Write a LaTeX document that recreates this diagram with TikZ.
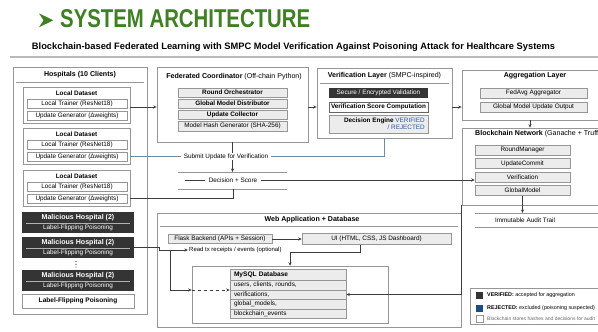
\documentclass[tikz,border=0pt]{standalone}
\usepackage{fontspec}
\setmainfont{Liberation Sans}
\usetikzlibrary{arrows.meta}
\definecolor{titlegreen}{RGB}{62,128,34}
\definecolor{boxline}{RGB}{150,150,150}
\definecolor{itemfill}{RGB}{236,236,236}
\definecolor{darkfill}{RGB}{52,52,52}
\definecolor{verblue}{RGB}{40,90,170}
\definecolor{rejblue}{RGB}{30,75,135}
\definecolor{linkgray}{RGB}{60,60,60}
\definecolor{submitblue}{RGB}{110,140,165}
\tikzset{
  layer/.style={draw=boxline,line width=.6bp,fill=white,inner sep=0pt},
  group/.style={draw=boxline,line width=.5bp,fill=white,inner sep=0pt},
  row/.style={draw=boxline,line width=.5bp,fill=white,inner sep=0pt,font=\fontsize{6.4}{7}\selectfont},
  item/.style={row,fill=itemfill},
  darkitem/.style={fill=darkfill,inner sep=0pt},
  lbl/.style={font=\fontsize{6.4}{7}\selectfont,inner sep=1pt},
  ttl/.style={font=\fontsize{7.1}{8}\selectfont\bfseries,inner sep=1pt},
  link/.style={draw=linkgray,line width=.6bp},
  arr/.style={link,-{Stealth[length=3.5bp,width=3bp]}},
  submitline/.style={draw=submitblue,line width=.6bp}
}
\begin{document}
\begin{tikzpicture}[x=1bp,y=-1bp]
  \path[use as bounding box] (0,0) rectangle (598,331);
  % title and subtitle
  \fill[titlegreen] (39,13.3) -- (53.3,20.3) -- (39,27.3) -- (43.5,20.3) -- cycle;
  \node[anchor=south west,inner sep=0pt,text=titlegreen] (title) at (60,28.3)
    {\resizebox{250bp}{18bp}{\bfseries SYSTEM ARCHITECTURE}};
  \node[inner sep=0pt] (subtitle) at (293.5,47)
    {\resizebox{523bp}{!}{\bfseries Blockchain-based Federated Learning with SMPC Model Verification Against Poisoning Attack for Healthcare Systems}};
  \draw[gray!55,line width=2bp] (10,57) -- (598,57);

  % hospitals
  \node[layer,minimum width=134bp,minimum height=247bp] (hosp) at (80,190.5) {};
  \node[ttl] (hosptitle) at (80,75) {Hospitals (10 Clients)};
  \draw[boxline,line width=.5bp] (16,82) -- (144,82);
  \node[group,minimum width=107bp,minimum height=36bp] (g1) at (76.5,105) {};
  \node[lbl,font=\fontsize{6.4}{7}\selectfont\bfseries] (g1data) at (76.5,93) {Local Dataset};
  \node[row,minimum width=100bp,minimum height=9bp] (g1train) at (77,103.5) {Local Trainer (ResNet18)};
  \node[row,minimum width=100bp,minimum height=9bp] (g1upd) at (77,115.5) {Update Generator (Δweights)};
  \node[group,minimum width=107bp,minimum height=36bp] (g2) at (76.5,146) {};
  \node[lbl,font=\fontsize{6.4}{7}\selectfont\bfseries] (g2data) at (76.5,134) {Local Dataset};
  \node[row,minimum width=100bp,minimum height=9bp] (g2train) at (77,144.5) {Local Trainer (ResNet18)};
  \node[row,minimum width=100bp,minimum height=9bp] (g2upd) at (77,156.5) {Update Generator (Δweights)};
  \node[group,minimum width=107bp,minimum height=36bp] (g3) at (76.5,188) {};
  \node[lbl,font=\fontsize{6.4}{7}\selectfont\bfseries] (g3data) at (76.5,176) {Local Dataset};
  \node[row,minimum width=100bp,minimum height=9bp] (g3train) at (77,186.5) {Local Trainer (ResNet18)};
  \node[row,minimum width=100bp,minimum height=9bp] (g3upd) at (77,198.5) {Update Generator (Δweights)};
  \node[darkitem,minimum width=112bp,minimum height=21bp] (m1) at (78,222.5) {};
  \node[ttl,text=white] (m1title) at (78,217.5) {Malicious Hospital (2)};
  \draw[gray!60,line width=.4bp] (26,223.3) -- (130,223.3);
  \node[lbl,text=white] (m1sub) at (78,228.3) {Label-Flipping Poisoning};
  \node[darkitem,minimum width=112bp,minimum height=21bp] (m2) at (78,247.5) {};
  \node[ttl,text=white] (m2title) at (78,242.5) {Malicious Hospital (2)};
  \draw[gray!60,line width=.4bp] (26,248.3) -- (130,248.3);
  \node[lbl,text=white] (m2sub) at (78,253.3) {Label-Flipping Poisoning};
  \fill[darkfill] (76,261.5) circle (.6bp) (76,264.3) circle (.6bp) (76,267.1) circle (.6bp);
  \node[darkitem,minimum width=112bp,minimum height=21bp] (m3) at (78,280.5) {};
  \node[ttl,text=white] (m3title) at (78,275.5) {Malicious Hospital (2)};
  \draw[gray!60,line width=.4bp] (26,281.3) -- (130,281.3);
  \node[lbl,text=white] (m3sub) at (78,286.3) {Label-Flipping Poisoning};
  \node[row,font=\fontsize{6.6}{7}\selectfont\bfseries,minimum width=112bp,minimum height=14bp] (lfp) at (78,301) {Label-Flipping Poisoning};

  % federated coordinator
  \node[layer,minimum width=151bp,minimum height=75bp] (fedc) at (232.5,104.5) {};
  \node[ttl] (fedctitle) at (234,77) {Federated Coordinator {\mdseries(Off-chain Python)}};
  \node[item,font=\fontsize{6.4}{7}\selectfont\bfseries,minimum width=109bp,minimum height=9.5bp] (orch) at (232.5,92.5) {Round Orchestrator};
  \node[item,font=\fontsize{6.4}{7}\selectfont\bfseries,minimum width=109bp,minimum height=9.5bp] (distr) at (232.5,103.5) {Global Model Distributor};
  \node[item,font=\fontsize{6.4}{7}\selectfont\bfseries,minimum width=109bp,minimum height=9.5bp] (collect) at (232.5,114.5) {Update Collector};
  \node[item,minimum width=109bp,minimum height=10bp] (hashgen) at (232.5,126) {Model Hash Generator (SHA-256)};

  % verification layer
  \node[layer,minimum width=135bp,minimum height=70bp] (ver) at (384.5,103) {};
  \node[ttl] (vertitle) at (384.5,76) {Verification Layer {\mdseries(SMPC-inspired)}};
  \draw[boxline,line width=.5bp] (320,83) -- (449,83);
  \node[darkitem,text=white,font=\fontsize{6.4}{7}\selectfont,minimum width=99bp,minimum height=10bp] (secure) at (378.5,93) {Secure / Encrypted Validation};
  \node[row,draw=gray!80!black,font=\fontsize{6.4}{7}\selectfont\bfseries,minimum width=99bp,minimum height=10bp] (score) at (378.5,107) {Verification Score Computation};
  \node[item,minimum width=99bp,minimum height=18bp] (engine) at (378.5,124) {};
  \node[lbl,align=right,anchor=east] (enginetext) at (426,124)
    {\textbf{Decision Engine} \textcolor{verblue}{VERIFIED}\\\textcolor{verblue}{/ REJECTED}};

  % aggregation layer
  \node[layer,minimum width=136bp,minimum height=50bp] (agg) at (530,95) {};
  \node[ttl] (aggtitle) at (535,76) {Aggregation Layer};
  \node[item,minimum width=107bp,minimum height=10bp] (fedavg) at (533.5,93) {FedAvg Aggregator};
  \node[item,minimum width=107bp,minimum height=10bp] (gmout) at (533.5,107) {Global Model Update Output};

  % blockchain network
  \node[layer,minimum width=188bp,minimum height=77bp] (bc) at (556,166.5) {};
  \node[ttl,anchor=west] (bctitle) at (474,134) {Blockchain Network {\mdseries(Ganache + Truffle)}};
  \node[item,minimum width=95bp,minimum height=10bp] (bcround) at (522.5,150) {RoundManager};
  \node[item,minimum width=95bp,minimum height=10bp] (bccommit) at (522.5,163.5) {UpdateCommit};
  \node[item,minimum width=95bp,minimum height=10bp] (bcver) at (522.5,177) {Verification};
  \node[item,minimum width=95bp,minimum height=10bp] (bcglob) at (522.5,190.5) {GlobalModel};
  \draw[boxline,line width=.6bp] (475,213) -- (598,213) (475,227) -- (598,227);
  \coordinate (audittop) at (522.5,213);
  \node[lbl] (audit) at (525,220) {Immutable Audit Trail};

  % legend
  \node[layer,minimum width=180bp,minimum height=36bp] (legend) at (560,306) {};
  \node[fill=darkfill,minimum size=7bp,inner sep=0pt] (sqver) at (479.5,295.5) {};
  \node[lbl,anchor=west,font=\fontsize{5.4}{6}\selectfont] (legver) at (486,295.5) {\textbf{VERIFIED:} accepted for aggregation};
  \node[fill=rejblue,minimum size=7bp,inner sep=0pt] (sqrej) at (479.5,308) {};
  \node[lbl,anchor=west,font=\fontsize{5.4}{6}\selectfont] (legrej) at (486,308) {\textbf{REJECTED:} excluded (poisoning suspected)};
  \node[draw=boxline,fill=white,minimum size=7bp,inner sep=0pt] (sqaudit) at (479.5,319) {};
  \node[lbl,anchor=west,text=gray!80!black,font=\fontsize{5}{6}\selectfont] (legaudit) at (486,319) {Blockchain stores hashes and decisions for audit};

  % web application + database
  \node[layer,minimum width=304bp,minimum height=114bp] (web) at (309,270) {};
  \node[ttl] (webtitle) at (312,220) {Web Application + Database};
  \draw[boxline,line width=.5bp] (160,226) -- (458,226);
  \node[item,minimum width=104bp,minimum height=9bp] (flask) at (220,239) {Flask Backend (APIs + Session)};
  \node[item,minimum width=149bp,minimum height=11bp] (ui) at (376.5,239) {UI (HTML, CSS, JS Dashboard)};
  \node[group,minimum width=196bp,minimum height=57bp] (db) at (290,294.5) {};
  \node[item,font=\fontsize{6.6}{7}\selectfont\bfseries,inner xsep=4bp,text width=108bp,align=left,minimum height=11bp] (mysql) at (288,274.5) {MySQL Database};
  \node[item,inner xsep=4bp,text width=108bp,align=left,minimum height=9.5bp] (users) at (288,285) {users, clients, rounds,};
  \node[item,inner xsep=4bp,text width=108bp,align=left,minimum height=9.5bp] (verif) at (288,294.5) {verifications,};
  \node[item,inner xsep=4bp,text width=108bp,align=left,minimum height=9.5bp] (gmodels) at (288,304) {global\_models,};
  \node[item,inner xsep=4bp,text width=108bp,align=left,minimum height=9.5bp] (bcevents) at (288,313.5) {blockchain\_events};
  \node[lbl,anchor=west,font=\fontsize{6}{7}\selectfont] (readtx) at (188,250) {Read tx receipts / events (optional)};
  \coordinate (tap) at (170,250);

  % connectors
  \draw[arr] (g1.east |- score.east) -- (fedc.west |- score.east);
  \draw[arr] (fedc.east |- score.east) -- (ver.west |- score.east);
  \draw[arr] (ver.east |- score.east) -- (agg.west |- score.east);
  \draw[arr] (agg.south) -- (agg.south |- bc.north);
  \draw[arr] (bcglob.south) -- (audittop);
  \coordinate (dtopl) at (178,172);
  \coordinate (dtopr) at (287,172);
  \coordinate (dbotl) at (178,189);
  \coordinate (dbotr) at (287,189);
  \coordinate (dbotmid) at (233,189);
  \coordinate (dstub) at (185,180);
  \draw[submitline] (g2upd.east -| g2.east) -| (ver.south);
  \draw[arr] (fedc.south) -- (fedc.south |- dtopl);
  \node[lbl,fill=white,inner xsep=3bp] (submit) at (226,156.5) {Submit Update for Verification};
  \draw[boxline,line width=.6bp] (dtopl) -- (dtopr) (dbotl) -- (dbotr);
  \draw[arr] (dstub) -- (dstub -| bcver.west);
  \node[lbl,fill=white,inner xsep=4bp] (decision) at (233,180) {Decision + Score};
  \draw[link] (dbotmid) |- (g3upd.east -| g3.east);
  \draw[arr] (flask.east) -- (flask.east -| ui.west);
  \draw[arr] ([xshift=-16bp]ui.south) -- ++(0,8) -| (db.north);
  \draw[arr] (m2.east) -- ++(25,0) |- (readtx.west);
  \draw[arr] (tap) |- (db.west |- users.south);
  \draw[arr,dashed] (db.west |- users.south) -- (users.south west);
  \draw[arr] (bc.south west) |- (verif.east);
\end{tikzpicture}
\end{document}
